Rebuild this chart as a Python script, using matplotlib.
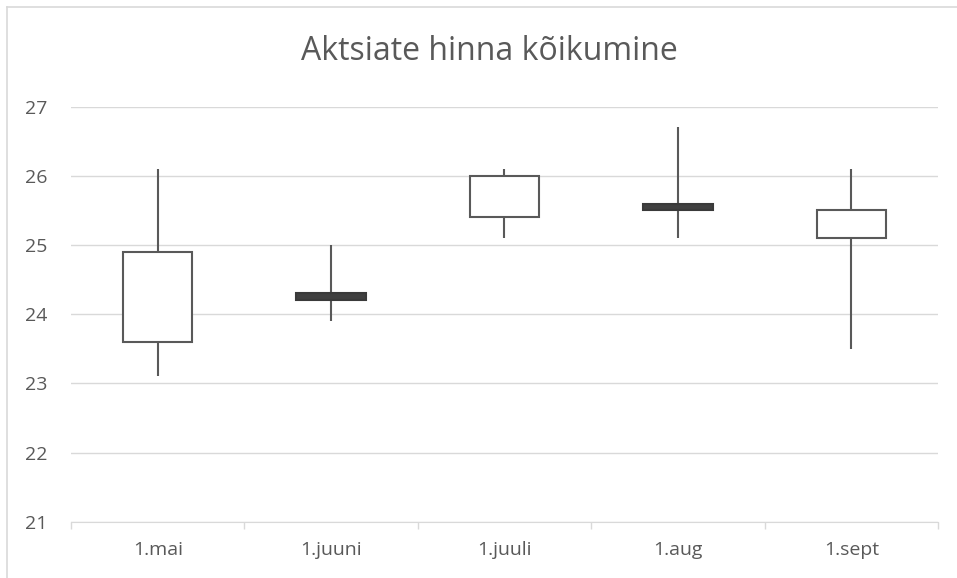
import matplotlib
matplotlib.use("Agg")
import matplotlib.pyplot as plt
from matplotlib.lines import Line2D

# OHLC per month
dates = ["1.mai", "1.juuni", "1.juuli", "1.aug", "1.sept"]
open_ = [23.6, 24.3, 25.4, 25.6, 25.1]
high = [26.1, 25.0, 26.1, 26.7, 26.1]
low = [23.1, 23.9, 25.1, 25.1, 23.5]
close = [24.9, 24.2, 26.0, 25.5, 25.5]
y_ticks = [21, 22, 23, 24, 25, 26, 27]

TEXT = "#595959"
GRID = "#d9d9d9"
plt.rcParams["font.family"] = ["Open Sans", "DejaVu Sans"]

fig = plt.figure(figsize=(9.57, 5.78), dpi=100)
ax = fig.add_axes([71 / 957, 1 - 521.7 / 578, (938 - 71) / 957, (521.7 - 106.7) / 578])

x = list(range(len(dates)))
# wicks first, bodies drawn on top
ax.vlines(x, low, high, color=TEXT, lw=1.5, zorder=2)
for i in x:
    up = close[i] >= open_[i]
    bottom = min(open_[i], close[i])
    h = abs(close[i] - open_[i])
    ax.bar(i, h, bottom=bottom, width=0.40,
           color="white" if up else "#404040",
           edgecolor=TEXT if up else "#3a3a3a", linewidth=1.5, zorder=3)

ax.set_xlim(-0.5, len(dates) - 0.5)
ax.set_ylim(21, 27)
ax.set_yticks(y_ticks)
ax.yaxis.grid(True, color=GRID, lw=1)
ax.set_axisbelow(True)
ax.set_xticks(x)
ax.set_xticklabels(dates)
ax.set_xticks([i - 0.5 for i in range(len(dates) + 1)], minor=True)
ax.tick_params(axis="x", which="major", length=0, pad=14, labelsize=14, labelcolor=TEXT)
ax.tick_params(axis="x", which="minor", length=5, color=GRID, width=1)
ax.tick_params(axis="y", length=0, pad=17, labelsize=14, labelcolor=TEXT)
for s in ["top", "right", "left"]:
    ax.spines[s].set_visible(False)
ax.spines["bottom"].set_color(GRID)

fig.text(0.511, 1 - 52 / 578, "Aktsiate hinna kõikumine", ha="center", va="center",
         fontsize=23, color=TEXT)

# chart frame (top and left edges)
fig.add_artist(Line2D([7 / 957, 1], [1 - 7 / 578] * 2, color=GRID, lw=1.2))
fig.add_artist(Line2D([7 / 957] * 2, [0, 1 - 7 / 578], color=GRID, lw=1.2))

fig.savefig("out.png", dpi=100)
